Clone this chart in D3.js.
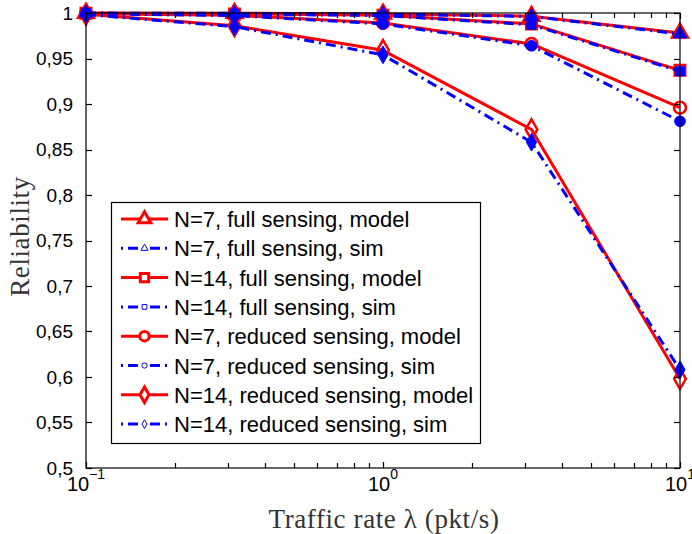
<!DOCTYPE html>
<html>
<head>
<meta charset="utf-8">
<script src="https://cdn.jsdelivr.net/npm/d3@7"></script>
<style>
  html, body { margin: 0; padding: 0; background: #fff; }
  svg { display: block; }
</style>
</head>
<body>
<svg id="chart" width="692" height="534"></svg>
<script>
// Traffic rates (pkt/s), log-spaced
const rates = [0.1, 0.3162, 1, 3.162, 10];

// Reliability per configuration
const n7FullModel  = [0.9999, 0.9997, 0.9990, 0.9965, 0.978];
const n7FullSim    = [0.9999, 0.9996, 0.9988, 0.9962, 0.977];
const n14FullModel = [0.9998, 0.9990, 0.9975, 0.988, 0.937];
const n14FullSim   = [0.9998, 0.9988, 0.9972, 0.987, 0.936];
const n7RedModel   = [0.9993, 0.9975, 0.989, 0.966, 0.896];
const n7RedSim     = [0.9992, 0.9972, 0.988, 0.964, 0.881];
const n14RedModel  = [0.9985, 0.986, 0.959, 0.872, 0.598];
const n14RedSim    = [0.9983, 0.985, 0.954, 0.858, 0.608];

const yTicks = [0.5, 0.55, 0.6, 0.65, 0.7, 0.75, 0.8, 0.85, 0.9, 0.95, 1];
const yTickLabels = ["0,5", "0,55", "0,6", "0,65", "0,7", "0,75", "0,8", "0,85", "0,9", "0,95", "1"];
const xMajor = [0.1, 1, 10];
const xMajorExp = ["\u22121", "0", "1"];

const seriesNames = [
  "N=7, full sensing, model",
  "N=7, full sensing, sim",
  "N=14, full sensing, model",
  "N=14, full sensing, sim",
  "N=7, reduced sensing, model",
  "N=7, reduced sensing, sim",
  "N=14, reduced sensing, model",
  "N=14, reduced sensing, sim"
];

const series = [
  { name: seriesNames[0], values: n7FullModel,  kind: "model", marker: "triangle" },
  { name: seriesNames[1], values: n7FullSim,    kind: "sim",   marker: "triangle" },
  { name: seriesNames[2], values: n14FullModel, kind: "model", marker: "square" },
  { name: seriesNames[3], values: n14FullSim,   kind: "sim",   marker: "square" },
  { name: seriesNames[4], values: n7RedModel,   kind: "model", marker: "circle" },
  { name: seriesNames[5], values: n7RedSim,     kind: "sim",   marker: "circle" },
  { name: seriesNames[6], values: n14RedModel,  kind: "model", marker: "diamond" },
  { name: seriesNames[7], values: n14RedSim,    kind: "sim",   marker: "diamond" }
];

const plotLeft = 86, plotRight = 680, plotTop = 13, plotBottom = 468;
const svg = d3.select("#chart");

const x = d3.scaleLog().domain([0.1, 10]).range([plotLeft, plotRight]);
const y = d3.scaleLinear().domain([0.5, 1]).range([plotBottom, plotTop]);

const RED = "#ff0000", BLUE = "#0000ff";
const symType = { triangle: d3.symbolTriangle, square: d3.symbolSquare, circle: d3.symbolCircle, diamond: d3.symbolDiamond };

function markerPath(type, size) {
  return d3.symbol().type(symType[type]).size(size)();
}

const plot = svg.append("g");
const line = d3.line().x((d, i) => x(rates[i])).y(d => y(d));

// model curves first, simulation curves over them
const order = series.filter(s => s.kind === "model").concat(series.filter(s => s.kind === "sim"));
const modelSizes = { triangle: 110, square: 110, circle: 110, diamond: 120 };
const simSizes = { triangle: 80, square: 80, circle: 90, diamond: 90 };

order.forEach(s => {
  const isModel = s.kind === "model";
  plot.append("path")
    .datum(s.values)
    .attr("d", line)
    .attr("fill", "none")
    .attr("stroke", isModel ? RED : BLUE)
    .attr("stroke-width", 3)
    .attr("stroke-dasharray", isModel ? null : "10,5,2,5")
    .attr("stroke-linejoin", "round");
  plot.selectAll(null)
    .data(s.values)
    .enter().append("path")
    .attr("d", markerPath(s.marker, isModel ? modelSizes[s.marker] : simSizes[s.marker]))
    .attr("transform", (d, i) => `translate(${x(rates[i])},${y(d)})`)
    .attr("fill", isModel ? "none" : BLUE)
    .attr("stroke", isModel ? RED : BLUE)
    .attr("stroke-width", isModel ? 2.5 : 1);
});

// axes box
const axes = svg.append("g").attr("fill", "none").attr("stroke", "#000").attr("stroke-width", 1.2);
axes.append("rect").attr("x", plotLeft).attr("y", plotTop).attr("width", plotRight - plotLeft).attr("height", plotBottom - plotTop);

// y ticks (inside, both sides) and labels
const tickLen = 6;
yTicks.forEach((t, i) => {
  const yy = Math.round(y(t)) + 0.5;
  axes.append("line").attr("x1", plotLeft).attr("x2", plotLeft + tickLen).attr("y1", yy).attr("y2", yy);
  axes.append("line").attr("x1", plotRight).attr("x2", plotRight - tickLen).attr("y1", yy).attr("y2", yy);
  svg.append("text")
    .attr("x", plotLeft - 13).attr("y", y(t) + 6.5)
    .attr("text-anchor", "end")
    .attr("font-family", "Liberation Sans, Arial, sans-serif")
    .attr("font-size", 19)
    .attr("fill", "#000")
    .text(yTickLabels[i]);
});

// x ticks: majors and log minors, top and bottom
const xTicks = [];
[0.1, 1].forEach(dec => { for (let k = 1; k <= 9; k++) xTicks.push(dec * k); });
xTicks.push(10);
xTicks.forEach(t => {
  const xx = Math.round(x(t)) + 0.5;
  const len = xMajor.includes(+t.toFixed(6)) ? tickLen : 5;
  axes.append("line").attr("x1", xx).attr("x2", xx).attr("y1", plotBottom).attr("y2", plotBottom - len);
  axes.append("line").attr("x1", xx).attr("x2", xx).attr("y1", plotTop).attr("y2", plotTop + len);
});

xMajor.forEach((t, i) => {
  const txt = svg.append("text")
    .attr("x", x(t)).attr("y", 491)
    .attr("text-anchor", "middle")
    .attr("font-family", "Liberation Sans, Arial, sans-serif")
    .attr("font-size", 20)
    .attr("fill", "#000");
  txt.append("tspan").text("10");
  txt.append("tspan").attr("dy", -12).attr("font-size", 14).text(xMajorExp[i]);
});

// axis titles
svg.append("text")
  .attr("x", 384).attr("y", 528)
  .attr("text-anchor", "middle")
  .attr("font-family", "Liberation Serif, 'DejaVu Serif', serif")
  .attr("font-size", 27)
  .attr("letter-spacing", 0.6)
  .attr("fill", "#333")
  .text("Traffic rate \u03bb (pkt/s)");

svg.append("text")
  .attr("transform", `translate(29,${(plotTop + plotBottom) / 2 - 4}) rotate(-90)`)
  .attr("text-anchor", "middle")
  .attr("font-family", "Liberation Serif, 'DejaVu Serif', serif")
  .attr("font-size", 27)
  .attr("letter-spacing", 0.6)
  .attr("fill", "#333")
  .text("Reliability");

// legend
const lg = svg.append("g");
const lgX = 111, lgY = 202, lgW = 369, lgH = 241;
lg.append("rect").attr("x", lgX + 0.5).attr("y", lgY + 0.5).attr("width", lgW).attr("height", lgH)
  .attr("fill", "#fff").attr("stroke", "#000").attr("stroke-width", 1.2);
const rowH = 29.3;
series.forEach((s, i) => {
  const cy = lgY + 17 + i * rowH;
  const isModel = s.kind === "model";
  lg.append("line")
    .attr("x1", 121).attr("x2", 168).attr("y1", cy).attr("y2", cy)
    .attr("stroke", isModel ? RED : BLUE)
    .attr("stroke-width", 3)
    .attr("stroke-dasharray", isModel ? null : "2,5,10,5");
  lg.append("path")
    .attr("d", markerPath(s.marker, isModel ? 70 : 22))
    .attr("transform", `translate(144.5,${cy})`)
    .attr("fill", "#fff")
    .attr("stroke", isModel ? RED : BLUE)
    .attr("stroke-width", isModel ? 3 : 1);
  lg.append("text")
    .attr("x", 174).attr("y", cy + 8)
    .attr("font-family", "Liberation Sans, Arial, sans-serif")
    .attr("font-size", 22)
    .attr("fill", "#000")
    .text(s.name);
});
</script>
</body>
</html>
